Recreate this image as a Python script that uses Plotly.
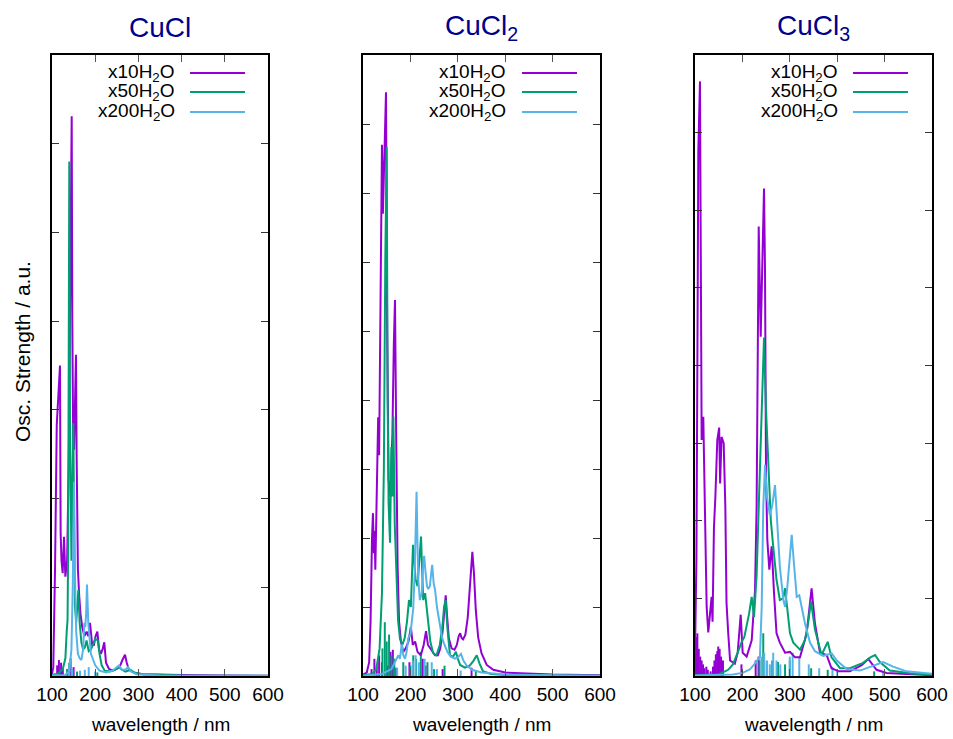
import plotly.graph_objects as go

W, H = 953, 739

# ---------------- data (wavelength nm, oscillator strength a.u.) ----------------
titles = ["CuCl", "CuCl<sub>2</sub>", "CuCl<sub>3</sub>"]
series_names = ["x10H<sub>2</sub>O", "x50H<sub>2</sub>O", "x200H<sub>2</sub>O"]
colors = ["#9400D3", "#009E73", "#56B4E9"]
y_max = [7, 9, 8]
x_ticks = [100, 200, 300, 400, 500, 600]

# Panel 1 : CuCl
cucl_10_x = [100, 103, 107, 111, 114, 118.5, 120, 122, 124.7, 127.8, 130.9, 135, 139, 142, 144, 145.6, 147, 149, 151, 153,
             155.5, 157, 160, 163, 166, 170, 175, 180, 184, 188, 193, 197, 201, 205, 209, 213, 217, 221, 225, 232,
             240, 250, 258, 263, 269, 273, 278, 285, 295, 310, 340, 400, 500, 600]
cucl_10_y = [0.02, 0.1, 1.2, 2.83, 3.1, 3.5, 1.61, 1.3, 1.16, 1.57, 1.12, 1.3, 2.5, 4.5, 5.8, 6.31, 4.0, 2.7, 2.55, 3.0,
             3.62, 2.5, 1.2, 0.9, 0.7, 0.55, 0.45, 0.5, 0.45, 0.6, 0.35, 0.35, 0.45, 0.5, 0.3, 0.25, 0.3, 0.38, 0.15, 0.08,
             0.06, 0.08, 0.12, 0.18, 0.24, 0.15, 0.07, 0.05, 0.03, 0.02, 0.015, 0.01, 0.005, 0.003]
cucl_50_x = [100, 115, 125, 131, 134, 136, 137.5, 139, 140, 141.5, 143, 145, 147, 149.4, 151, 153, 156, 159, 161, 164,
             168, 172, 176, 180, 185, 190, 195, 200, 206, 210, 215, 222, 235, 245, 255, 262, 270, 282, 290, 310, 400, 600]
cucl_50_y = [0.01, 0.03, 0.08, 0.2, 0.5, 0.63, 1.5, 4.0, 5.8, 3.0, 1.6, 1.3, 2.0, 2.85, 1.8, 0.8, 0.6, 0.85, 0.97, 0.6,
             0.38, 0.3, 0.32, 0.4, 0.28, 0.3, 0.35, 0.42, 0.4, 0.25, 0.12, 0.06, 0.05, 0.07, 0.1, 0.07, 0.05, 0.07, 0.04, 0.02, 0.005, 0.002]
cucl_200_x = [100, 130, 140, 145, 148, 151, 153, 156, 160, 164, 168, 172, 175, 177, 179, 181, 184, 187, 190, 194,
              200, 210, 225, 240, 250, 255, 262, 270, 276, 283, 295, 350, 600]
cucl_200_y = [0.005, 0.01, 0.05, 0.3, 1.0, 2.19, 1.2, 0.5, 0.25, 0.2, 0.18, 0.3, 0.6, 0.55, 0.7, 1.03, 0.6, 0.45, 0.25, 0.2,
              0.12, 0.06, 0.04, 0.06, 0.1, 0.12, 0.07, 0.07, 0.1, 0.05, 0.02, 0.005, 0.001]
cucl_10_sx = [112, 116, 121, 125, 143, 150]
cucl_10_sh = [0.12, 0.18, 0.15, 0.08, 0.2, 0.1]
cucl_50_sx = [135, 140, 158, 205]
cucl_50_sh = [0.08, 0.15, 0.05, 0.04]
cucl_200_sx = [140, 147, 165, 176, 185, 200]
cucl_200_sh = [0.1, 0.08, 0.06, 0.07, 0.1, 0.05]

# Panel 2 : CuCl2
cucl2_10_x = [100, 108, 113, 116, 119, 121, 123, 124.5, 126, 129, 132, 134, 137, 140, 142, 145, 148.5, 151, 154, 158,
              162, 165, 167.5, 170, 173, 176, 180, 185, 190, 196, 201, 205, 210, 215, 222, 228, 233, 237, 241, 246,
              252, 258, 263, 268, 272, 274.5, 277, 281, 287, 293, 298, 302, 305, 308, 311, 316, 321, 326, 330.7, 334,
              338, 343, 350, 361, 375, 400, 450, 500, 600]
cucl2_10_y = [0.02, 0.05, 0.2, 0.8, 2.0, 2.36, 1.78, 2.1, 1.54, 2.5, 3.75, 3.2, 5.0, 7.7, 6.7, 7.5, 8.46, 5.0, 2.84, 2.6,
              3.5, 4.8, 5.45, 3.5, 1.6, 0.8, 0.5, 0.35, 0.4, 0.5, 0.71, 0.45, 0.5, 0.35, 0.3, 0.45, 0.65, 0.45, 0.41, 0.35,
              0.3, 0.3, 0.4, 0.65, 1.0, 1.17, 0.9, 0.55, 0.4, 0.38, 0.45, 0.58, 0.62, 0.55, 0.53, 0.6, 0.85, 1.4, 1.8, 1.5,
              0.95, 0.56, 0.33, 0.16, 0.09, 0.05, 0.03, 0.02, 0.01]
cucl2_50_x = [100, 120, 128, 135, 140, 144, 147, 150, 152, 154, 157, 159.8, 162, 164, 167, 171, 174, 178, 183, 188,
              193, 197, 201, 205.5, 208, 211, 215, 219, 222.4, 225, 227, 231, 234, 237, 242, 248, 255, 262, 268, 271,
              274.4, 278, 283.5, 290, 296, 300, 305, 315, 325, 333, 340, 346, 353, 370, 400, 600]
cucl2_50_y = [0.01, 0.03, 0.1, 0.4, 1.2, 3.0, 6.0, 7.67, 4.0, 2.5, 1.93, 3.32, 2.6, 3.76, 2.2, 1.49, 0.8, 0.54, 0.45, 0.55,
              0.8, 1.1, 1.0, 1.9, 1.6, 1.4, 1.3, 1.7, 2.02, 1.5, 1.1, 1.2, 1.0, 0.77, 0.5, 0.33, 0.3, 0.45, 0.75, 1.0,
              1.1, 0.7, 0.3, 0.28, 0.35, 0.25, 0.16, 0.12, 0.15, 0.22, 0.3, 0.18, 0.07, 0.03, 0.015, 0.003]
cucl2_200_x = [100, 140, 160, 168, 174.6, 178, 181.6, 185, 188.6, 192, 195.6, 200, 206, 209, 211, 213, 215, 216.7, 220, 224,
               227, 229, 232, 235, 237.8, 241, 244, 246, 249, 252, 256, 262, 267, 271, 278, 285, 294, 300, 306.7, 312,
               318.8, 330, 350, 400, 600]
cucl2_200_y = [0.005, 0.03, 0.1, 0.2, 0.3, 0.25, 0.46, 0.3, 0.25, 0.35, 0.55, 0.6, 0.98, 1.5, 2.2, 2.67, 1.9, 1.39, 1.1, 1.2,
               1.6, 1.74, 1.5, 1.3, 1.26, 1.3, 1.5, 1.61, 1.35, 1.25, 1.0, 0.75, 0.55, 0.47, 0.35, 0.28, 0.25, 0.27, 0.32, 0.22,
               0.15, 0.09, 0.05, 0.02, 0.005]
cucl2_10_sx = [118, 124, 129, 134, 140, 152, 158, 163, 170, 198, 226, 232, 268, 329]
cucl2_10_sh = [0.1, 0.25, 0.15, 0.3, 0.2, 0.15, 0.35, 0.38, 0.12, 0.2, 0.25, 0.15, 0.1, 0.12]
cucl2_50_sx = [141, 146, 150, 155, 160, 166, 185, 200, 206, 212, 222, 236, 250, 272, 338]
cucl2_50_sh = [0.4, 0.78, 0.5, 0.6, 0.3, 0.25, 0.2, 0.15, 0.3, 0.25, 0.35, 0.2, 0.1, 0.15, 0.08]
cucl2_200_sx = [172, 190, 205, 211, 218, 230, 245, 256, 306]
cucl2_200_sh = [0.12, 0.15, 0.22, 0.3, 0.2, 0.25, 0.2, 0.1, 0.08]

# Panel 3 : CuCl3
cucl3_10_x = [100, 103, 105, 107, 110.5, 112, 114, 117.5, 121, 124.6, 128, 131.6, 135, 137, 140, 143, 147, 151, 153, 156,
              160.5, 164, 166.5, 170, 174, 184, 190, 196.4, 200.6, 209, 219.6, 226.6, 230, 234.4, 238.6, 245.6, 247.7, 249.8, 252.6, 256.8,
              261.8, 266.7, 272, 279, 290, 300.4, 311, 321.5, 335.6, 346, 353, 363.7, 377.8, 388, 403, 427, 451.7, 465.6, 483, 504,
              561, 600]
cucl3_10_y = [0.3, 1.5, 4.0, 6.76, 7.66, 4.24, 3.04, 3.34, 2.18, 0.89, 0.56, 0.81, 1.02, 0.7, 1.92, 2.31, 3.04, 3.2, 2.48, 3.08,
              3.0, 2.18, 0.94, 0.56, 0.2, 0.16, 0.3, 0.79, 0.3, 0.25, 0.46, 1.1, 2.18, 5.79, 4.37, 6.28, 5.23, 2.61, 1.75, 1.37,
              1.67, 1.07, 0.55, 0.43, 0.3, 0.31, 0.24, 0.24, 0.55, 1.13, 0.68, 0.3, 0.27, 0.1, 0.06, 0.06, 0.14, 0.22, 0.08, 0.04,
              0.02, 0.01]
cucl3_50_x = [100, 150, 170, 180, 190, 198.5, 204, 209, 214, 219.6, 224.5, 230, 237, 241, 245.6, 250, 254.7, 260, 265, 272,
              279, 286, 290, 294.7, 300.4, 307.4, 321.5, 332, 339, 344.7, 353, 367, 380, 388, 406, 427, 454.6, 470, 480, 490,
              511, 561, 600]
cucl3_50_y = [0.01, 0.02, 0.08, 0.15, 0.3, 0.44, 0.5, 0.63, 0.8, 1.02, 0.76, 1.3, 2.6, 3.6, 4.36, 3.4, 2.63, 2.0, 1.67, 1.24,
              0.98, 1.0, 1.13, 0.89, 0.55, 0.43, 0.34, 0.46, 0.7, 0.96, 0.6, 0.27, 0.44, 0.24, 0.1, 0.1, 0.17, 0.24, 0.27, 0.18,
              0.07, 0.03, 0.02]
cucl3_200_x = [100, 180, 200, 215, 225, 237, 240.7, 244, 247.7, 252, 258, 263, 268.8, 273.7, 279, 286.3, 290, 294.7, 300.4, 304,
               309, 314.6, 320, 332, 342.6, 353, 370.7, 388.4, 399, 420, 448, 469, 497, 518, 546, 600]
cucl3_200_y = [0.005, 0.02, 0.04, 0.08, 0.15, 0.25, 0.89, 2.18, 2.72, 2.3, 2.07, 2.2, 2.46, 1.97, 1.41, 0.98, 0.89, 1.14, 1.58, 1.82,
               1.43, 1.02, 1.04, 0.68, 0.43, 0.32, 0.26, 0.29, 0.2, 0.09, 0.07, 0.12, 0.18, 0.12, 0.06, 0.03]
cucl3_10_sx = [101, 103, 105, 108, 111, 114, 117, 120, 124, 127, 133, 138, 141, 144, 147, 149, 152, 155, 159, 198, 228, 234, 246]
cucl3_10_sh = [0.3, 0.5, 0.55, 0.35, 0.25, 0.2, 0.15, 0.1, 0.12, 0.08, 0.06, 0.12, 0.2, 0.28, 0.32, 0.38, 0.35, 0.25, 0.2, 0.15, 0.2, 0.25, 0.2]
cucl3_50_sx = [236, 244, 252, 263, 275, 290, 300, 345, 380, 478]
cucl3_50_sh = [0.2, 0.55, 0.15, 0.2, 0.18, 0.15, 0.2, 0.1, 0.08, 0.06]
cucl3_200_sx = [240, 246, 252, 258, 265, 272, 280, 300, 306, 320, 340, 362, 390, 400, 497]
cucl3_200_sh = [0.25, 0.3, 0.2, 0.15, 0.3, 0.2, 0.15, 0.25, 0.3, 0.25, 0.15, 0.1, 0.12, 0.08, 0.05]

panels = [
    [(cucl_10_x, cucl_10_y, cucl_10_sx, cucl_10_sh),
     (cucl_50_x, cucl_50_y, cucl_50_sx, cucl_50_sh),
     (cucl_200_x, cucl_200_y, cucl_200_sx, cucl_200_sh)],
    [(cucl2_10_x, cucl2_10_y, cucl2_10_sx, cucl2_10_sh),
     (cucl2_50_x, cucl2_50_y, cucl2_50_sx, cucl2_50_sh),
     (cucl2_200_x, cucl2_200_y, cucl2_200_sx, cucl2_200_sh)],
    [(cucl3_10_x, cucl3_10_y, cucl3_10_sx, cucl3_10_sh),
     (cucl3_50_x, cucl3_50_y, cucl3_50_sx, cucl3_50_sh),
     (cucl3_200_x, cucl3_200_y, cucl3_200_sx, cucl3_200_sh)],
]

# ---------------- layout geometry (pixels) ----------------
panel_px = [(52, 268), (363, 600), (695, 932)]
plot_top, plot_bottom = 55, 676
legend_text_right = [177, 508, 840]
legend_line = [(190, 245), (522, 577), (853, 908)]
legend_rows = [73, 92, 112]

FONT = "Liberation Sans, Arial, Helvetica, sans-serif"


def px(x):
    return x / W


def py(y):
    return 1 - y / H


fig = go.Figure()
layout = dict(
    width=W, height=H,
    margin=dict(l=0, r=0, t=0, b=0, autoexpand=False),
    paper_bgcolor="white", plot_bgcolor="white",
    showlegend=False,
    font=dict(family=FONT, size=19, color="black"),
)

annotations = []
shapes = []

for i, panel in enumerate(panels):
    xa = "x" if i == 0 else f"x{i + 1}"
    ya = "y" if i == 0 else f"y{i + 1}"
    # stick spectra
    for (cx, cy, sx, sh), col in zip(panel, colors):
        xs, ys = [], []
        for p, h in zip(sx, sh):
            xs += [p, p, None]
            ys += [0, h, None]
        fig.add_trace(go.Scatter(x=xs, y=ys, mode="lines", xaxis=xa, yaxis=ya,
                                 line=dict(color=col, width=2), hoverinfo="skip"))
    # broadened spectra
    for (cx, cy, sx, sh), col, name in zip(panel, colors, series_names):
        fig.add_trace(go.Scatter(x=cx, y=cy, mode="lines", xaxis=xa, yaxis=ya, name=name,
                                 line=dict(color=col, width=2)))

    x0, x1 = panel_px[i]
    key = "" if i == 0 else str(i + 1)
    layout["xaxis" + key] = dict(
        domain=[px(x0), px(x1)], range=[100, 600], tickvals=x_ticks,
        ticks="inside", ticklen=7, tickcolor="#555", tickwidth=1.2,
        showline=True, linecolor="black", linewidth=1.5, mirror="ticks",
        showgrid=False, zeroline=False, anchor=ya, automargin=False,
        tickfont=dict(family=FONT, size=19, color="black"),
    )
    layout["yaxis" + key] = dict(
        domain=[py(plot_bottom), py(plot_top)], range=[0, y_max[i]], dtick=1,
        ticks="inside", ticklen=7, tickcolor="#333", tickwidth=1.2,
        showline=True, linecolor="black", linewidth=1.5, mirror="ticks",
        showticklabels=False, showgrid=False, zeroline=False, anchor=xa, automargin=False,
    )
    # title
    annotations.append(dict(text=titles[i], x=px((x0 + x1) / 2), y=py(28), xref="paper", yref="paper",
                            showarrow=False, xanchor="center", yanchor="middle",
                            font=dict(family=FONT, size=28, color="#00008B")))
    # x axis title
    annotations.append(dict(text="wavelength / nm", x=px((x0 + x1) / 2), y=py(724), xref="paper", yref="paper",
                            showarrow=False, xanchor="center", yanchor="middle",
                            font=dict(family=FONT, size=19, color="black")))
    # legend
    for r, (name, col) in enumerate(zip(series_names, colors)):
        annotations.append(dict(text=name, x=px(legend_text_right[i]), y=py(legend_rows[r]),
                                xref="paper", yref="paper", showarrow=False,
                                xanchor="right", yanchor="middle",
                                font=dict(family=FONT, size=19, color="black")))
        lx0, lx1 = legend_line[i]
        shapes.append(dict(type="line", xref="paper", yref="paper",
                           x0=px(lx0), x1=px(lx1), y0=py(legend_rows[r]), y1=py(legend_rows[r]),
                           line=dict(color=col, width=2)))

annotations.append(dict(text="Osc. Strength / a.u.", x=px(22), y=py(352), xref="paper", yref="paper",
                        showarrow=False, textangle=-90, xanchor="center", yanchor="middle",
                        font=dict(family=FONT, size=21, color="black")))

layout["annotations"] = annotations
layout["shapes"] = shapes
fig.update_layout(**layout)
fig.write_html("out.html")
